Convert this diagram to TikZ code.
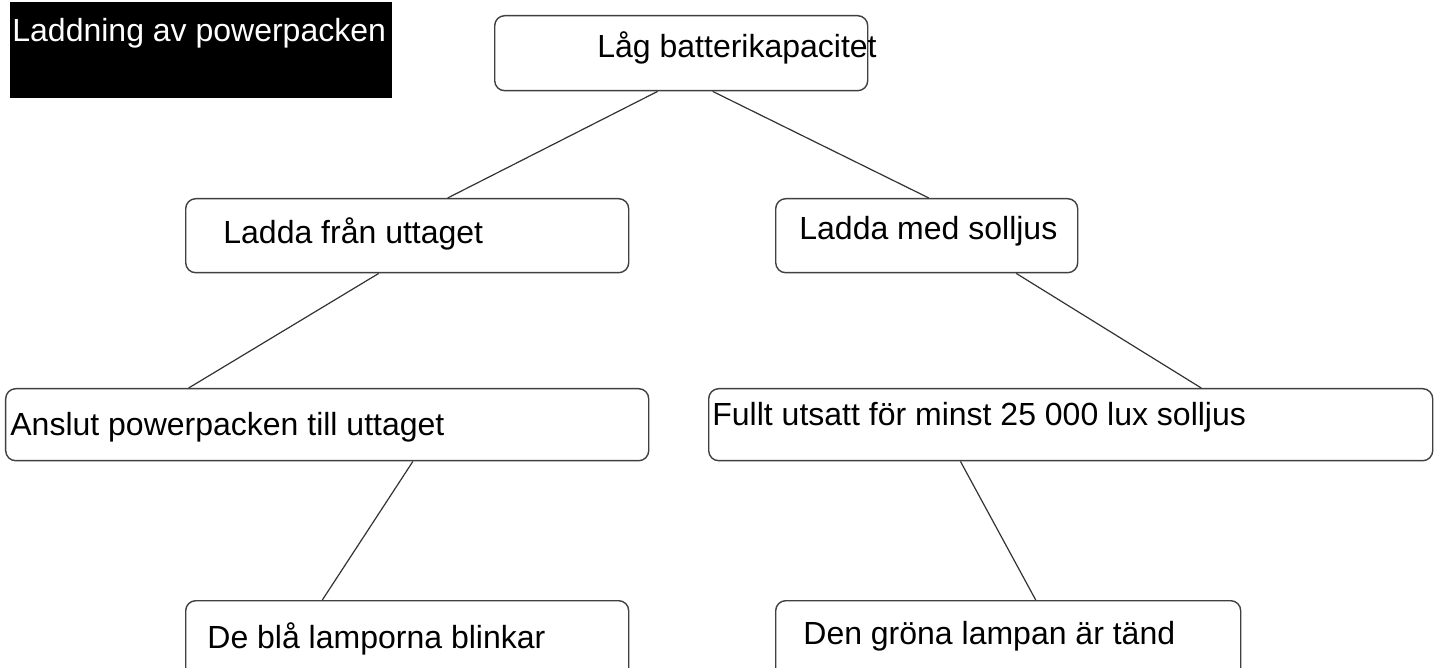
\documentclass[tikz,border=0pt]{standalone}
\usepackage{fontspec}
\setmainfont{Liberation Sans}
\usetikzlibrary{calc}
\begin{document}
\begin{tikzpicture}[x=0.5pt,y=-0.5pt,
  box/.style={draw=black!75, line width=0.7pt, rounded corners=5pt, fill=white},
  lbl/.style={anchor=base west, inner sep=0pt, font=\fontsize{16}{19}\selectfont},
  conn/.style={draw=black!80, line width=0.6pt}]
\useasboundingbox (0,0) rectangle (1437,668);
\clip (0,0) rectangle (1437,668);
\fill[white] (0,0) rectangle (1437,668);
% title
\node[fill=black, inner sep=0pt, minimum width=191pt, minimum height=48pt, anchor=north west] (title) at (10,2) {};
\node[lbl, text=white] (titletext) at (12,42) {Laddning av powerpacken};
% boxes
\node[box, minimum width=186.5pt, minimum height=37.5pt, anchor=north west] (low) at (494,15) {};
\node[box, minimum width=221.5pt, minimum height=37pt, anchor=north west] (fran) at (185,198) {};
\node[box, minimum width=151pt, minimum height=37pt, anchor=north west] (sol) at (775,198) {};
\node[box, minimum width=321.5pt, minimum height=36pt, anchor=north west] (anslut) at (5,388) {};
\node[box, minimum width=362pt, minimum height=36pt, anchor=north west] (fullt) at (708,388) {};
\node[box, minimum width=221.5pt, minimum height=45pt, anchor=north west] (bla) at (185,600) {};
\node[box, minimum width=232.5pt, minimum height=45pt, anchor=north west] (gron) at (775,600) {};
% texts
\node[lbl] (t1) at (597,58) {Låg batterikapacitet};
\node[lbl] (t2) at (223,244) {Ladda från uttaget};
\node[lbl] (t3) at (799,240) {Ladda med solljus};
\node[lbl] (t4) at (10,436) {Anslut powerpacken till uttaget};
\node[lbl] (t5) at (712,426) {Fullt utsatt för minst 25 000 lux solljus};
\node[lbl] (t6) at (207,648) {De blå lamporna blinkar};
\node[lbl] (t7) at (803,645) {Den gröna lampan är tänd};
% connectors
\draw[conn] ($(low.south west)!0.437!(low.south east)$) -- ($(fran.north west)!0.591!(fran.north east)$);
\draw[conn] ($(low.south west)!0.584!(low.south east)$) -- ($(sol.north west)!0.507!(sol.north east)$);
\draw[conn] ($(fran.south west)!0.436!(fran.south east)$) -- ($(anslut.north west)!0.285!(anslut.north east)$);
\draw[conn] ($(sol.south west)!0.795!(sol.south east)$) -- ($(fullt.north west)!0.680!(fullt.north east)$);
\draw[conn] ($(anslut.south west)!0.633!(anslut.south east)$) -- ($(bla.north west)!0.309!(bla.north east)$);
\draw[conn] ($(fullt.south west)!0.348!(fullt.south east)$) -- ($(gron.north west)!0.559!(gron.north east)$);
\end{tikzpicture}
\end{document}
